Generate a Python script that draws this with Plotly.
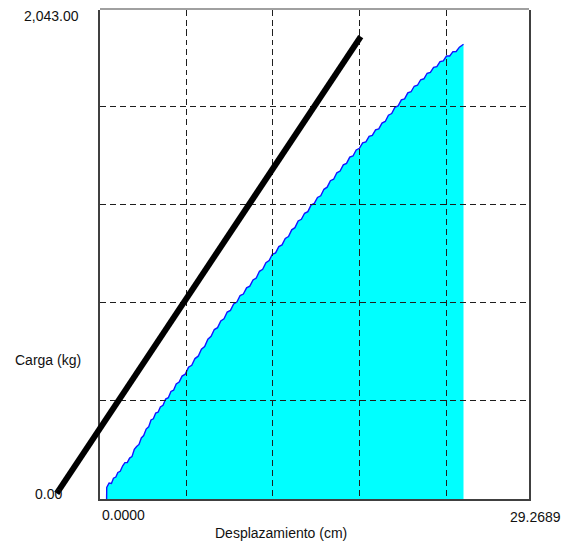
import plotly.graph_objects as go

# Axis extents and labels
X_MAX = 29.2689
Y_MAX = 2043.00
x_tick_labels = ["0.0000", "29.2689"]
y_tick_labels = ["0.00", "2,043.00"]
x_title = "Desplazamiento (cm)"
y_title = "Carga (kg)"

# Grid positions (cm / kg)
x_grid = [5.87, 11.78, 17.70, 23.62]
y_grid = [413, 820, 1228, 1638]

# Measured load-displacement curve
desplazamiento = [
    0.45, 0.46, 0.62, 0.78, 0.92, 1.08, 1.22, 1.38, 1.55, 1.70, 1.86, 2.02,
    2.18, 2.34, 2.50, 2.66, 2.82, 2.98, 3.15, 3.32, 3.48, 3.64, 3.80, 3.96,
    4.12, 4.30, 4.48, 4.66, 4.84, 5.02, 5.20, 5.40, 5.60, 5.82, 6.04, 6.26,
    6.48, 6.70, 6.92, 7.14, 7.36, 7.58, 7.80, 8.02, 8.24, 8.46, 8.68, 8.90,
    9.12, 9.34, 9.56, 9.78, 10.00, 10.22, 10.44, 10.66, 10.88, 11.10, 11.32,
    11.54, 11.76, 11.98, 12.20, 12.42, 12.64, 12.86, 13.08, 13.30, 13.52,
    13.74, 13.96, 14.18, 14.40, 14.62, 14.84, 15.06, 15.28, 15.50, 15.72,
    15.94, 16.16, 16.38, 16.60, 16.82, 17.04, 17.26, 17.48, 17.70, 17.92,
    18.14, 18.36, 18.58, 18.80, 19.02, 19.24, 19.46, 19.68, 19.90, 20.12,
    20.34, 20.56, 20.78, 21.00, 21.22, 21.44, 21.66, 21.88, 22.10, 22.32,
    22.54, 22.76, 22.98, 23.20, 23.42, 23.64, 23.86, 24.08, 24.30, 24.52,
    24.70, 24.80,
]
carga = [
    0, 50, 68, 66, 88, 93, 112, 117, 140, 153, 153, 172,
    178, 208, 220, 229, 256, 266, 293, 302, 331, 336, 360, 363,
    385, 392, 418, 424, 450, 455, 481, 489, 514, 522, 551, 559,
    587, 597, 626, 637, 668, 680, 708, 716, 744, 753, 781, 788,
    815, 823, 850, 856, 882, 889, 915, 923, 951, 959, 987,
    996, 1022, 1028, 1054, 1061, 1088, 1096, 1124, 1133, 1161,
    1168, 1193, 1200, 1227, 1234, 1259, 1266, 1293, 1302, 1329,
    1335, 1362, 1369, 1395, 1401, 1427, 1432, 1457, 1464, 1487,
    1491, 1514, 1518, 1541, 1545, 1569, 1576, 1602, 1609, 1635,
    1641, 1666, 1670, 1695, 1700, 1723, 1727, 1750, 1754, 1777,
    1781, 1802, 1805, 1826, 1829, 1849, 1849, 1867, 1868, 1886,
    1893, 1898,
]

# Reference stiffness line
ref_x = [-2.95, 17.79]
ref_y = [25, 1930]

W, H = 568, 548
# Plot frame in pixels (left, right, top, bottom)
L_PX, R_PX, T_PX, B_PX = 100.0, 529.0, 9.5, 499.3

dom_x = [L_PX / W, R_PX / W]
dom_y = [(H - B_PX) / H, (H - T_PX) / H]

# Full-canvas axes sharing the same data scale, so the reference
# line can run past the frame.
sx = X_MAX / (R_PX - L_PX)
sy = Y_MAX / (B_PX - T_PX)
x3_range = [0 - L_PX * sx, X_MAX + (W - R_PX) * sx]
y3_range = [0 - (H - B_PX) * sy, Y_MAX + T_PX * sy]

fig = go.Figure()

# Filled curve (subplot xy)
fig.add_trace(go.Scatter(
    x=desplazamiento, y=carga, mode="lines",
    line=dict(color="#1414ff", width=1.4),
    fill="tozeroy", fillcolor="#00ffff",
    xaxis="x", yaxis="y", showlegend=False, hoverinfo="skip",
))

# Grid subplot (x2y2) drawn over the fill
fig.add_trace(go.Scatter(
    x=[], y=[], mode="lines", xaxis="x2", yaxis="y2",
    showlegend=False, hoverinfo="skip",
))

# Reference line on the full-canvas subplot (x3y3)
fig.add_trace(go.Scatter(
    x=ref_x, y=ref_y, mode="lines",
    line=dict(color="#000000", width=6),
    xaxis="x3", yaxis="y3", showlegend=False, hoverinfo="skip",
))

grid_style = dict(gridcolor="#1e1e1e", gridwidth=1, griddash="6px,4px")
font = dict(family="Liberation Sans, Arial, sans-serif", size=14, color="#111111")

fig.update_layout(
    width=W, height=H,
    margin=dict(l=0, r=0, t=0, b=0, pad=0),
    paper_bgcolor="white", plot_bgcolor="rgba(0,0,0,0)",
    showlegend=False,
    xaxis=dict(
        domain=dom_x, range=[0, X_MAX], anchor="y",
        showgrid=False, zeroline=False, showticklabels=False, ticks="",
        showline=True, linecolor="#404040", linewidth=1.5, mirror=False,
    ),
    yaxis=dict(
        domain=dom_y, range=[0, Y_MAX], anchor="x",
        showgrid=False, zeroline=False, showticklabels=False, ticks="",
        showline=True, linecolor="#404040", linewidth=1.5, mirror=True,
    ),
    xaxis2=dict(
        domain=dom_x, range=[0, X_MAX], anchor="y2", side="top",
        tickmode="array", tickvals=x_grid, showticklabels=False, ticks="",
        showgrid=True, zeroline=False,
        showline=True, linecolor="#a0a0a0", linewidth=1.5,
        **grid_style,
    ),
    yaxis2=dict(
        domain=dom_y, range=[0, Y_MAX], anchor="x2",
        tickmode="array", tickvals=y_grid, showticklabels=False, ticks="",
        showgrid=True, zeroline=False, showline=False,
        **grid_style,
    ),
    xaxis3=dict(
        domain=[0, 1], range=x3_range, anchor="y3", visible=False,
    ),
    yaxis3=dict(
        domain=[0, 1], range=y3_range, anchor="x3", visible=False,
    ),
    font=font,
)

def px_x(p):
    return p / W

def px_y(p):
    return 1 - p / H

annotations = [
    dict(text=y_tick_labels[1], x=px_x(81), y=px_y(15.5), xanchor="right", yanchor="middle"),
    dict(text=y_tick_labels[0], x=px_x(33), y=px_y(494), xanchor="left", yanchor="middle"),
    dict(text=x_tick_labels[0], x=px_x(100), y=px_y(514.5), xanchor="left", yanchor="middle"),
    dict(text=x_tick_labels[1], x=px_x(563), y=px_y(516.5), xanchor="right", yanchor="middle"),
    dict(text=y_title, x=px_x(13), y=px_y(360), xanchor="left", yanchor="middle"),
    dict(text=x_title, x=px_x(281), y=px_y(533), xanchor="center", yanchor="middle"),
]
for a in annotations:
    fig.add_annotation(xref="paper", yref="paper", showarrow=False, font=font, **a)

fig.write_html("out.html")
